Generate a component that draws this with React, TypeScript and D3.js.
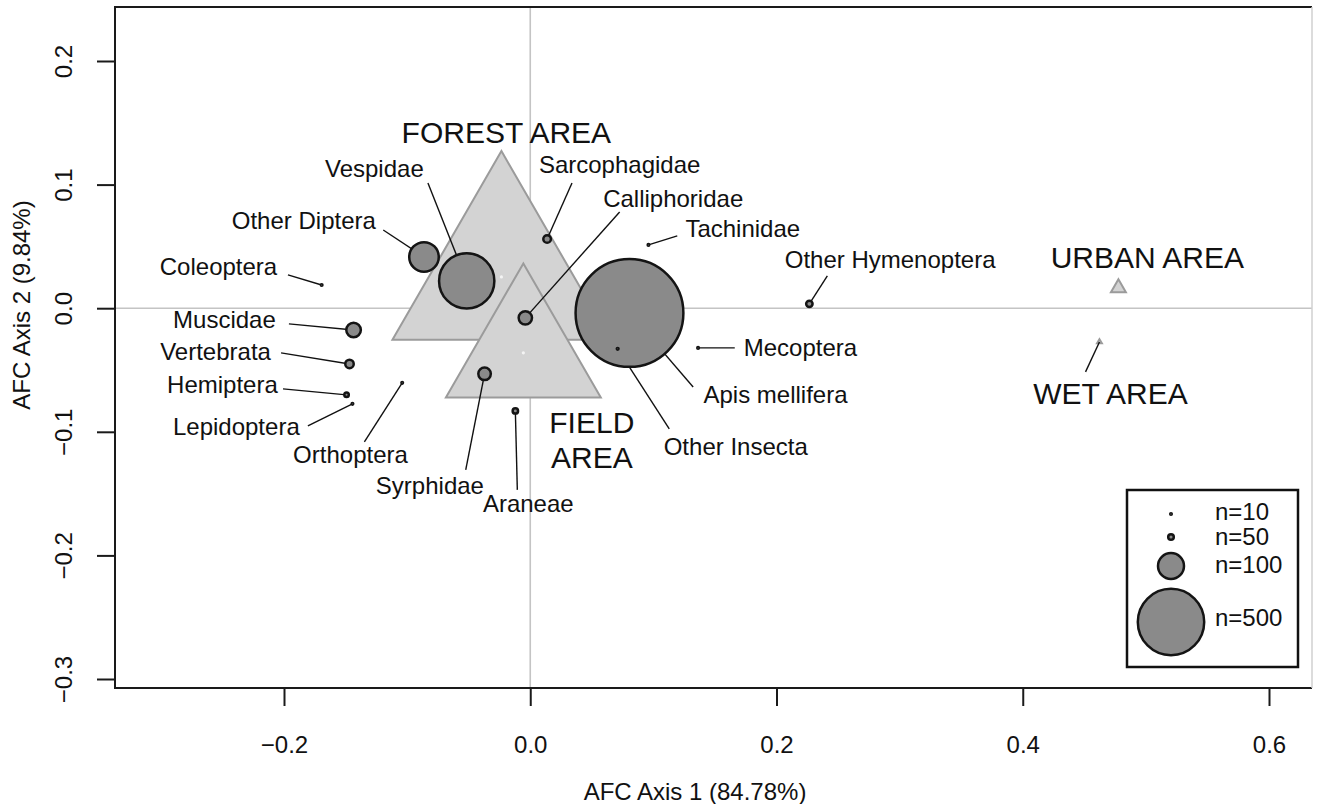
import React, { useEffect, useRef } from 'react';
import * as d3 from 'd3';

// Correspondence analysis (AFC) of prey taxa vs. habitat type

const taxa = [
  'Apis mellifera', 'Vespidae', 'Other Diptera', 'Calliphoridae', 'Sarcophagidae',
  'Tachinidae', 'Syrphidae', 'Araneae', 'Other Insecta', 'Mecoptera',
  'Other Hymenoptera', 'Muscidae', 'Vertebrata', 'Hemiptera', 'Lepidoptera',
  'Orthoptera', 'Coleoptera'
];
const taxaAxis1 = [0.0806, -0.0516, -0.0863, -0.004, 0.0137, 0.096, -0.0371, -0.0121, 0.071, 0.1363, 0.2267, -0.1435, -0.1468, -0.1492, -0.1444, -0.104, -0.1694];
const taxaAxis2 = [-0.0038, 0.0221, 0.0415, -0.0078, 0.056, 0.0512, -0.0531, -0.0831, -0.0329, -0.0321, 0.0035, -0.0176, -0.0451, -0.0701, -0.0774, -0.0604, 0.0188];
const taxaN = [910, 390, 135, 69, 55, 10, 67, 48, 12, 10, 52, 72, 57, 39, 10, 10, 10];

// where each taxon name sits, and where its leader line starts (axis units)
const labelAxis1 = [0.1992, -0.1266, -0.1839, 0.1161, 0.0726, 0.1726, -0.0815, -0.0016, 0.1669, 0.2194, 0.2923, -0.2484, -0.2556, -0.25, -0.2387, -0.146, -0.2532];
const labelAxis2 = [-0.0701, 0.1126, 0.0706, 0.0884, 0.1159, 0.0641, -0.1437, -0.1583, -0.1122, -0.0321, 0.0391, -0.0095, -0.0353, -0.062, -0.096, -0.1186, 0.0334];
const leaderAxis1 = [0.1323, -0.0831, -0.1194, 0.0726, 0.0339, 0.1194, -0.0524, -0.0105, 0.1129, 0.1661, 0.2413, -0.196, -0.2024, -0.2008, -0.1806, -0.1347, -0.1968];
const leaderAxis2 = [-0.0637, 0.1013, 0.0633, 0.0779, 0.1013, 0.0585, -0.1308, -0.147, -0.0976, -0.0321, 0.0261, -0.0127, -0.0361, -0.0653, -0.0952, -0.1081, 0.0269];

const areas = ['FOREST AREA', 'FIELD AREA', 'URBAN AREA', 'WET AREA'];
const areaAxis1 = [-0.0234, -0.0056, 0.4777, 0.4623];
const areaAxis2 = [0.0253, -0.0361, 0.0164, -0.0273];
const areaWeight = [100, 50.5, 0.47, 0.05];
const areaLabelLines = [['FOREST AREA'], ['FIELD', 'AREA'], ['URBAN AREA'], ['WET AREA']];
const areaLabelAxis1 = [-0.0194, 0.05, 0.5012, 0.4713];
const areaLabelAxis2 = [0.1426, -0.1067, 0.0415, -0.0685];
const areaLeaderAxis1 = [null, null, null, 0.451];
const areaLeaderAxis2 = [null, null, null, -0.0515];

const legendN = [10, 50, 100, 500];
const xTicks = [-0.2, 0, 0.2, 0.4, 0.6];
const yTicks = [-0.3, -0.2, -0.1, 0, 0.1, 0.2];

const FONT = '"Liberation Sans", Arial, Helvetica, sans-serif';

export default function App() {
  const svgRef = useRef<SVGSVGElement>(null);

  useEffect(() => {
    const svg = d3.select(svgRef.current);
    svg.selectAll('*').remove();

    const plot = { left: 115, top: 7, right: 1312, bottom: 688 };

    const x = d3.scaleLinear().domain([-0.2, 0.6]).range([284, 1269]);
    const y = d3.scaleLinear().domain([-0.3, 0.2]).range([679, 61]);
    const r = d3.scaleLinear().domain([0, ...legendN]).range([0, 0.8, 2.8, 13, 33.2]);
    const side = d3.scaleSqrt().domain([0, 100]).range([0, 218]);
    const fmt = d3.format('.1f');

    const triangle = (cx: number, cy: number, s: number) => {
      const h = (s * Math.sqrt(3)) / 2;
      return `M${cx},${cy - (2 * h) / 3}L${cx + s / 2},${cy + h / 3}L${cx - s / 2},${cy + h / 3}Z`;
    };

    // zero reference lines
    svg.append('line')
      .attr('x1', plot.left).attr('x2', plot.right)
      .attr('y1', y(0)).attr('y2', y(0))
      .attr('stroke', '#c4c4c4').attr('stroke-width', 1.6);
    svg.append('line')
      .attr('x1', x(0)).attr('x2', x(0))
      .attr('y1', plot.top).attr('y2', plot.bottom)
      .attr('stroke', '#c4c4c4').attr('stroke-width', 1.6);

    // habitat triangles
    areas.forEach((a, i) => {
      const cx = x(areaAxis1[i]);
      const cy = y(areaAxis2[i]);
      svg.append('path')
        .attr('d', triangle(cx, cy, side(areaWeight[i])))
        .attr('fill', '#d3d3d3')
        .attr('stroke', '#9b9b9b')
        .attr('stroke-width', 2);
      if (areaWeight[i] > 10) {
        svg.append('circle').attr('cx', cx).attr('cy', cy).attr('r', 1.6).attr('fill', '#f4f4f4');
      }
    });

    // leader lines
    taxa.forEach((t, i) => {
      svg.append('line')
        .attr('x1', x(leaderAxis1[i])).attr('y1', y(leaderAxis2[i]))
        .attr('x2', x(taxaAxis1[i])).attr('y2', y(taxaAxis2[i]))
        .attr('stroke', '#111').attr('stroke-width', 1.4);
    });
    areas.forEach((a, i) => {
      const lx = areaLeaderAxis1[i];
      const ly = areaLeaderAxis2[i];
      if (lx === null || ly === null) return;
      svg.append('line')
        .attr('x1', x(lx)).attr('y1', y(ly))
        .attr('x2', x(areaAxis1[i])).attr('y2', y(areaAxis2[i]))
        .attr('stroke', '#111').attr('stroke-width', 1.4);
    });

    // taxa bubbles
    svg.append('g')
      .selectAll('circle')
      .data(taxa.map((t, i) => i))
      .join('circle')
      .attr('cx', i => x(taxaAxis1[i]))
      .attr('cy', i => y(taxaAxis2[i]))
      .attr('r', i => r(taxaN[i]))
      .attr('fill', '#8a8a8a')
      .attr('stroke', '#141414')
      .attr('stroke-width', 2.5);

    // taxa labels
    svg.append('g')
      .selectAll('text')
      .data(taxa)
      .join('text')
      .attr('x', (t, i) => x(labelAxis1[i]))
      .attr('y', (t, i) => y(labelAxis2[i]))
      .attr('dy', '0.35em')
      .attr('text-anchor', 'middle')
      .attr('font-family', FONT)
      .attr('font-size', 24)
      .attr('fill', '#111')
      .text(t => t);

    // habitat labels
    areas.forEach((a, i) => {
      const lines = areaLabelLines[i];
      const t = svg.append('text')
        .attr('text-anchor', 'middle')
        .attr('font-family', FONT)
        .attr('font-size', 30)
        .attr('fill', '#111');
      lines.forEach((ln, j) => {
        t.append('tspan')
          .attr('x', x(areaLabelAxis1[i]))
          .attr('y', y(areaLabelAxis2[i]) + (j - (lines.length - 1) / 2) * 35)
          .attr('dy', '0.36em')
          .text(ln);
      });
    });

    // frame
    svg.append('path')
      .attr('d', `M${plot.right},${plot.top}L${plot.left},${plot.top}L${plot.left},${plot.bottom}L${plot.right},${plot.bottom}`)
      .attr('fill', 'none').attr('stroke', '#1a1a1a').attr('stroke-width', 2);
    svg.append('line')
      .attr('x1', plot.right).attr('x2', plot.right)
      .attr('y1', plot.top).attr('y2', plot.bottom)
      .attr('stroke', '#d0d0d0').attr('stroke-width', 1.5);

    // axes
    const gx = svg.append('g')
      .attr('transform', `translate(0,${plot.bottom})`)
      .call(d3.axisBottom(x).tickValues(xTicks).tickSize(18).tickFormat(d => fmt(d as number)));
    gx.select('.domain').remove();
    gx.selectAll('line').attr('stroke', '#1a1a1a').attr('stroke-width', 2);
    gx.selectAll('text')
      .attr('y', 57).attr('dy', '0.35em')
      .attr('font-family', FONT).attr('font-size', 24).attr('fill', '#111');

    const gy = svg.append('g')
      .attr('transform', `translate(${plot.left},0)`)
      .call(d3.axisLeft(y).tickValues(yTicks).tickSize(18).tickFormat(d => fmt(d as number)));
    gy.select('.domain').remove();
    gy.selectAll('line').attr('stroke', '#1a1a1a').attr('stroke-width', 2);
    gy.selectAll('text')
      .attr('x', 0).attr('dy', '0.35em')
      .attr('text-anchor', 'middle')
      .attr('transform', 'translate(-51,0) rotate(-90)')
      .attr('font-family', FONT).attr('font-size', 24).attr('fill', '#111');

    svg.append('text')
      .attr('x', 695).attr('y', 792).attr('dy', '0.35em')
      .attr('text-anchor', 'middle')
      .attr('font-family', FONT).attr('font-size', 24).attr('fill', '#111')
      .text('AFC Axis 1 (84.78%)');
    svg.append('text')
      .attr('transform', 'translate(22,305) rotate(-90)')
      .attr('dy', '0.35em')
      .attr('text-anchor', 'middle')
      .attr('font-family', FONT).attr('font-size', 24).attr('fill', '#111')
      .text('AFC Axis 2 (9.84%)');

    // size legend
    const box = { x: 1127, y: 490, w: 171, h: 177 };
    const symbolRow = [24, 47, 76, 132];
    const textRow = [22, 47, 75, 128];
    const lg = svg.append('g');
    lg.append('rect')
      .attr('x', box.x).attr('y', box.y).attr('width', box.w).attr('height', box.h)
      .attr('fill', '#fff').attr('stroke', '#111').attr('stroke-width', 2.5);
    legendN.forEach((n, i) => {
      lg.append('circle')
        .attr('cx', box.x + 44).attr('cy', box.y + symbolRow[i]).attr('r', r(n))
        .attr('fill', '#8a8a8a').attr('stroke', '#141414').attr('stroke-width', 2.5);
      lg.append('text')
        .attr('x', box.x + 88).attr('y', box.y + textRow[i]).attr('dy', '0.35em')
        .attr('font-family', FONT).attr('font-size', 24).attr('fill', '#111')
        .text(`n=${n}`);
    });
  }, []);

  return (
    <div style={{ position: 'absolute', left: 0, top: 0, background: '#fff' }}>
      <svg ref={svgRef} width={1318} height={804} style={{ display: 'block' }} />
    </div>
  );
}
